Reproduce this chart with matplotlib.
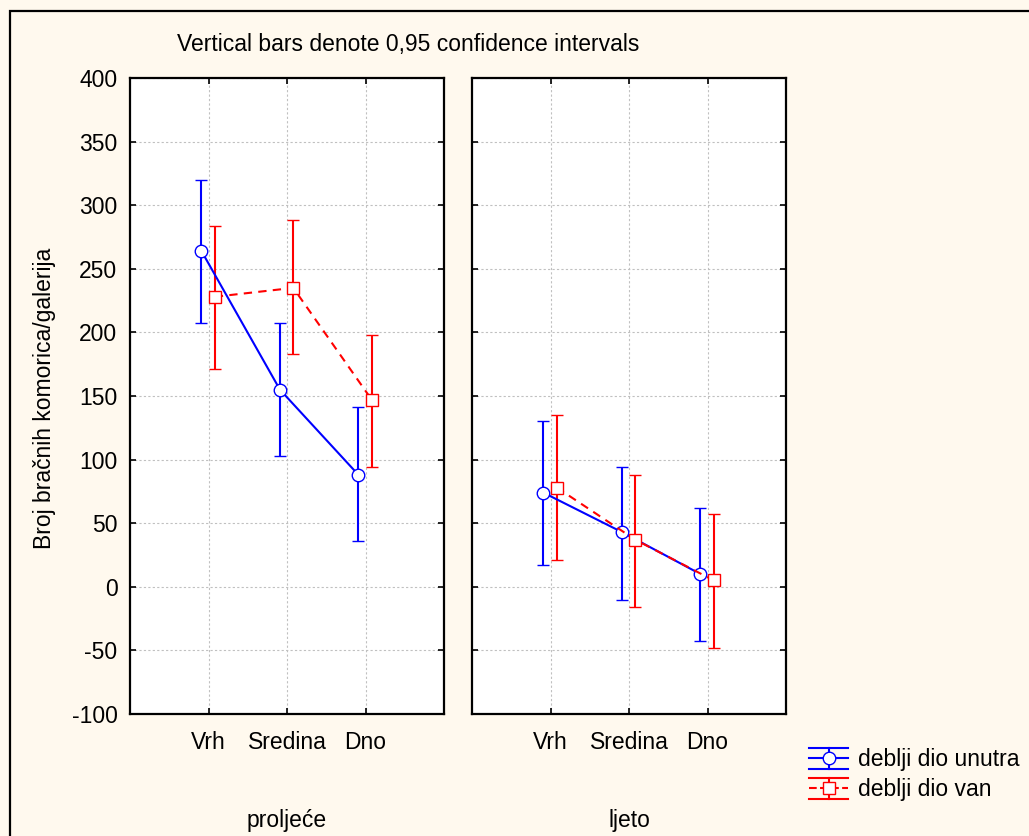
import numpy as np
import matplotlib.pyplot as plt
from matplotlib.patches import Rectangle
from matplotlib.lines import Line2D
from matplotlib.legend_handler import HandlerBase

plt.rcParams['font.family'] = ['Liberation Sans', 'DejaVu Sans']
plt.rcParams['axes.unicode_minus'] = False

# Podaci
categories = ['Vrh', 'Sredina', 'Dno']
seasons = ['proljeće', 'ljeto']
series_names = ['deblji dio unutra', 'deblji dio van']

# sredine i granice intervala (po sezoni: proljeće, ljeto)
unutra_mean = [[264, 155, 88], [74, 43, 10]]
unutra_lo = [[207, 103, 36], [17, -10, -43]]
unutra_hi = [[320, 207, 141], [130, 94, 62]]

van_mean = [[228, 235, 147], [78, 37, 5]]
van_lo = [[171, 183, 94], [21, -16, -48]]
van_hi = [[284, 288, 198], [135, 88, 57]]

FS = 16.5
bg = '#fff9ee'
W, H = 1029, 836


class StatHandler(HandlerBase):
    # legenda u stilu: dvije vodoravne crte, okomita crta i marker
    def create_artists(self, legend, orig, xd, yd, width, height, fontsize, trans):
        c = orig.get_color()
        x0, x1 = -xd, -xd + width
        y0, y1 = -yd, -yd + height
        ym = (y0 + y1) / 2
        xm = (x0 + x1) / 2
        arts = [
            Line2D([x0, x1], [y0, y0], color=c, lw=1.5),
            Line2D([x0, x1], [y1, y1], color=c, lw=1.5),
            Line2D([xm, xm], [y0, y1], color=c, lw=1.5),
            Line2D([x0, x1], [ym, ym], color=c, lw=1.5, ls=orig.get_linestyle()),
            Line2D([xm], [ym], marker=orig.get_marker(), ms=orig.get_markersize(),
                   mfc='white', mec=c, mew=1, ls='none'),
        ]
        for a in arts:
            a.set_transform(trans)
        return arts


fig = plt.figure(figsize=(W / 100, H / 100), dpi=100, facecolor=bg)

# okvir slike
fig.patches.append(Rectangle((10 / W, -0.1), 1.2, 0.1 + 1 - 11 / H,
                             transform=fig.transFigure, fill=False,
                             edgecolor='black', linewidth=1.6))

panel_left = [130, 472]
x = np.arange(len(categories))

for i, season in enumerate(seasons):
    ax = fig.add_axes([panel_left[i] / W, 1 - 714 / H, 314 / W, 636 / H])
    ax.set_facecolor('white')

    m = np.array(unutra_mean[i])
    err = [m - np.array(unutra_lo[i]), np.array(unutra_hi[i]) - m]
    ax.errorbar(x - 0.09, m, yerr=err, color='#0000ff', lw=1.5,
                marker='o', ms=9, mfc='white', mec='#0000ff', mew=1,
                capsize=4, capthick=1.5, elinewidth=1.5, zorder=3)

    m = np.array(van_mean[i])
    err = [m - np.array(van_lo[i]), np.array(van_hi[i]) - m]
    ax.errorbar(x + 0.08, m, yerr=err, color='#ff0000', lw=1.5,
                ls=(0, (4, 3)), marker='s', ms=8, mfc='white',
                mec='#ff0000', mew=1, capsize=4, capthick=1.5,
                elinewidth=1.5, zorder=3)

    ax.set_xlim(-1, 3)
    ax.set_ylim(-100, 400)
    ax.set_xticks(x)
    ax.set_xticklabels(categories)
    ax.set_yticks(np.arange(-100, 401, 50))
    ax.grid(True, color='#c0c0c0', linestyle=(0, (2, 2)), linewidth=0.8)
    ax.tick_params(direction='in', length=4, width=1.2, top=True, right=True,
                   labelsize=FS)
    ax.tick_params(axis='x', pad=12)
    ax.tick_params(axis='y', pad=9)
    if i == 1:
        ax.tick_params(labelleft=False)
    for s in ax.spines.values():
        s.set_linewidth(1.6)

    fig.text((panel_left[i] + 157) / W, 1 - 820 / H, season,
             ha='center', va='center', fontsize=FS)

fig.text(408 / W, 1 - 45 / H, 'Vertical bars denote 0,95 confidence intervals',
         ha='center', va='center', fontsize=FS)
fig.text(45 / W, 1 - 398 / H, 'Broj bračnih komorica/galerija', rotation=90,
         ha='center', va='center', fontsize=FS)

proxies = [Line2D([], [], color='#0000ff', ls='-', marker='o', ms=9),
           Line2D([], [], color='#ff0000', ls=(0, (4, 3)), marker='s', ms=8)]
fig.legend(proxies, series_names, loc='upper left',
           bbox_to_anchor=(800 / W, 1 - 739 / H), frameon=False, fontsize=FS,
           handler_map={Line2D: StatHandler()}, handlelength=1.7,
           handleheight=1.0, handletextpad=0.45, labelspacing=0.3,
           borderpad=0.2, borderaxespad=0.2)

fig.savefig('out.png', dpi=100, facecolor=bg)
